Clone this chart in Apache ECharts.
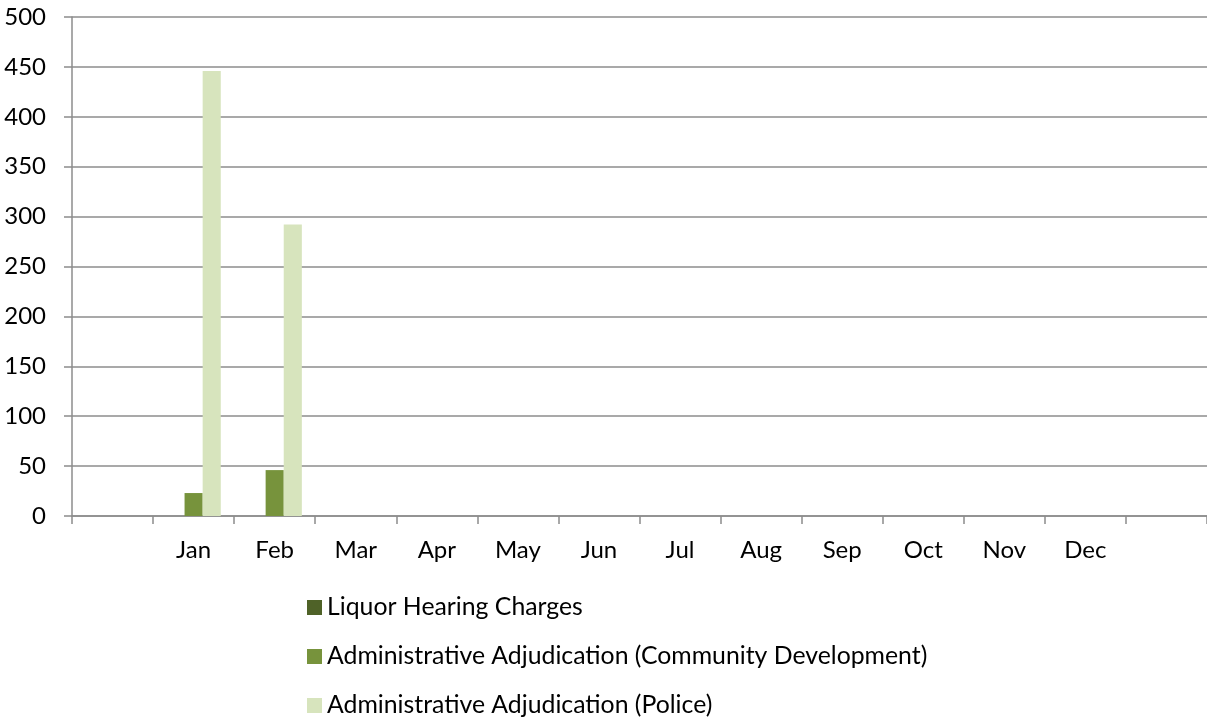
<!DOCTYPE html>
<html>
<head>
<meta charset="utf-8">
<script src="https://cdn.jsdelivr.net/npm/echarts@6/dist/echarts.min.js"></script>
<style>
html,body{margin:0;padding:0;background:#fff;}
#chart{width:1207px;height:721px;}
</style>
</head>
<body>
<div id="chart"></div>
<script>
var categories = ['', 'Jan', 'Feb', 'Mar', 'Apr', 'May', 'Jun', 'Jul', 'Aug', 'Sep', 'Oct', 'Nov', 'Dec', ' '];
var liquorHearing = [null, 0, 0, null, null, null, null, null, null, null, null, null, null, null];
var adminCommunity = [null, 23, 46, null, null, null, null, null, null, null, null, null, null, null];
var adminPolice = [null, 446, 292, null, null, null, null, null, null, null, null, null, null, null];
var seriesNames = ['Liquor Hearing Charges', 'Administrative Adjudication (Community Development)', 'Administrative Adjudication (Police)'];
var seriesColors = ['#4F6228', '#77933C', '#D7E4BD'];

var FONT = 'Lato, "Liberation Sans", sans-serif';
var AXIS_COLOR = '#8c8c8c';

var chart = echarts.init(document.getElementById('chart'), null, {renderer: 'canvas'});
var values = [liquorHearing, adminCommunity, adminPolice];
chart.setOption({
  animation: false,
  backgroundColor: '#ffffff',
  grid: {left: 72, right: -2, top: 17, bottom: 205, containLabel: false},
  legend: {
    orient: 'vertical',
    left: 307,
    top: 595,
    padding: 0,
    itemGap: 24,
    itemWidth: 15,
    itemHeight: 15,
    icon: 'rect',
    data: seriesNames,
    textStyle: {fontFamily: FONT, fontSize: 24.8, color: '#000', lineHeight: 24}
  },
  xAxis: {
    type: 'category',
    data: categories,
    boundaryGap: true,
    axisLine: {lineStyle: {color: AXIS_COLOR, width: 1.5}},
    axisTick: {show: true, interval: 0, length: 8, lineStyle: {color: AXIS_COLOR, width: 1.5}},
    axisLabel: {interval: 0, margin: 22, fontFamily: FONT, fontSize: 24, color: '#000'},
    splitLine: {show: false}
  },
  yAxis: {
    type: 'value',
    min: 0,
    max: 500,
    interval: 50,
    axisLine: {show: true, lineStyle: {color: AXIS_COLOR, width: 1.5}},
    axisTick: {show: true, length: 8, lineStyle: {color: AXIS_COLOR, width: 1.5}},
    axisLabel: {margin: 26, fontFamily: FONT, fontSize: 24, color: '#000'},
    splitLine: {show: true, lineStyle: {color: AXIS_COLOR, width: 1.5}}
  },
  series: seriesNames.map(function (name, i) {
    return {
      name: name,
      type: 'bar',
      data: values[i],
      barGap: '0%',
      barCategoryGap: '33%',
      itemStyle: {color: seriesColors[i]}
    };
  })
});
</script>
</body>
</html>
